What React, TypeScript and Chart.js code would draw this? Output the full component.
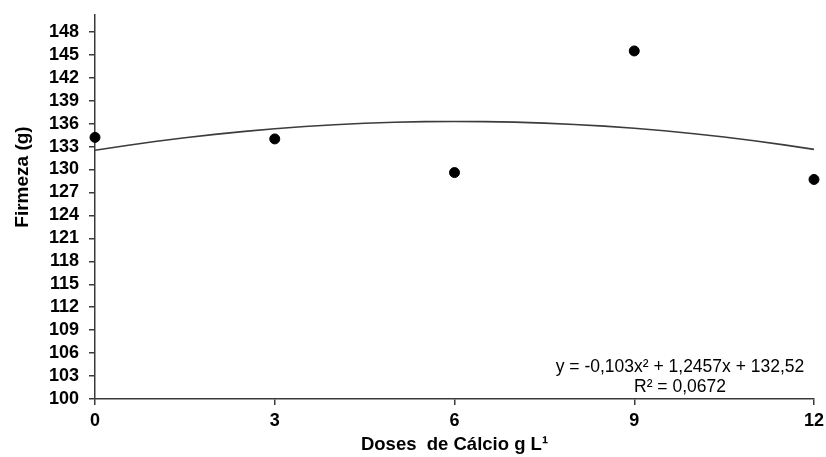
import React, { useEffect, useRef } from "react";
import { Chart, registerables } from "chart.js";

Chart.register(...registerables);

const doses = [0, 3, 6, 9, 12];
const firmeza = [134.2, 134.0, 129.6, 145.5, 128.7];
// trend line coefficients shown on the chart: y = a x² + b x + c
const trendCoefficients = [-0.103, 1.2457, 132.52];
const trendX = [0, 0.5, 1, 1.5, 2, 2.5, 3, 3.5, 4, 4.5, 5, 5.5, 6, 6.5, 7, 7.5, 8, 8.5, 9, 9.5, 10, 10.5, 11, 11.5, 12];
const yTicks = [100, 103, 106, 109, 112, 115, 118, 121, 124, 127, 130, 133, 136, 139, 142, 145, 148];
const xTicks = [0, 3, 6, 9, 12];
const equationLines = ["y = -0,103x² + 1,2457x + 132,52", "R² = 0,0672"];
const xTitle = "Doses  de Cálcio g L¹";
const yTitle = "Firmeza (g)";

const FONT = "'Liberation Sans', Arial, sans-serif";
const AXIS_COLOR = "#3a3a3a";

export default function App() {
  const ref = useRef<HTMLCanvasElement | null>(null);

  useEffect(() => {
    if (!ref.current) return;
    const [a, b, c] = trendCoefficients;
    const trend = trendX.map((x) => ({ x, y: a * x * x + b * x + c }));
    const points = doses.map((x, i) => ({ x, y: firmeza[i] }));

    const textPlugin = {
      id: "texts",
      afterDraw(chart: any) {
        const ctx = chart.ctx;
        const area = chart.chartArea;
        ctx.save();
        ctx.fillStyle = "#000";
        ctx.textAlign = "center";
        ctx.textBaseline = "middle";
        ctx.font = `17.5px ${FONT}`;
        ctx.fillText(equationLines[0], 680, 367);
        ctx.fillText(equationLines[1], 680, 387);
        ctx.font = `bold 18.5px ${FONT}`;
        ctx.fillText(xTitle, (area.left + area.right) / 2, 445);
        ctx.translate(23, 177);
        ctx.rotate(-Math.PI / 2);
        ctx.font = `bold 19px ${FONT}`;
        ctx.fillText(yTitle, 0, 0);
        ctx.restore();
      },
    };

    const chart = new Chart(ref.current, {
      type: "scatter",
      data: {
        datasets: [
          {
            data: trend,
            showLine: true,
            borderColor: "#3c3c3c",
            borderWidth: 1.6,
            pointRadius: 0,
            fill: false,
            clip: false as any,
          },
          {
            data: points,
            backgroundColor: "#000",
            borderColor: "#000",
            pointRadius: 5,
            clip: false as any,
          },
        ],
      },
      options: {
        responsive: false,
        animation: false,
        layout: { padding: { top: 15, right: 12, left: 0, bottom: 0 } },
        plugins: { legend: { display: false }, tooltip: { enabled: false } },
        scales: {
          x: {
            type: "linear",
            min: 0,
            max: 12,
            afterBuildTicks: (s: any) => {
              s.ticks = xTicks.map((v) => ({ value: v }));
            },
            afterFit: (s: any) => {
              s.height = 58;
              s.paddingLeft = 0;
              s.paddingRight = 0;
            },
            grid: {
              drawOnChartArea: false,
              drawTicks: true,
              tickLength: 6,
              color: AXIS_COLOR,
              lineWidth: 1.5,
            },
            border: { display: true, color: AXIS_COLOR, width: 1.5 },
            ticks: {
              autoSkip: false,
              maxRotation: 0,
              color: "#000",
              padding: 5,
              font: { family: FONT, size: 18, weight: "bold" },
            },
          },
          y: {
            type: "linear",
            min: 100,
            max: 150.2,
            afterBuildTicks: (s: any) => {
              s.ticks = yTicks.map((v) => ({ value: v }));
            },
            afterFit: (s: any) => {
              s.width = 95;
              s.paddingTop = 0;
              s.paddingBottom = 0;
            },
            grid: {
              drawOnChartArea: false,
              drawTicks: true,
              tickLength: 6,
              color: AXIS_COLOR,
              lineWidth: 1.5,
            },
            border: { display: true, color: AXIS_COLOR, width: 1.5 },
            ticks: {
              autoSkip: false,
              color: "#000",
              padding: 10,
              font: { family: FONT, size: 18, weight: "bold" },
            },
          },
        },
      },
      plugins: [textPlugin],
    } as any);

    return () => chart.destroy();
  }, []);

  return (
    <div style={{ position: "fixed", left: 0, top: 0, width: 826, height: 457, background: "#fff" }}>
      <canvas ref={ref} width={826} height={457} />
    </div>
  );
}
